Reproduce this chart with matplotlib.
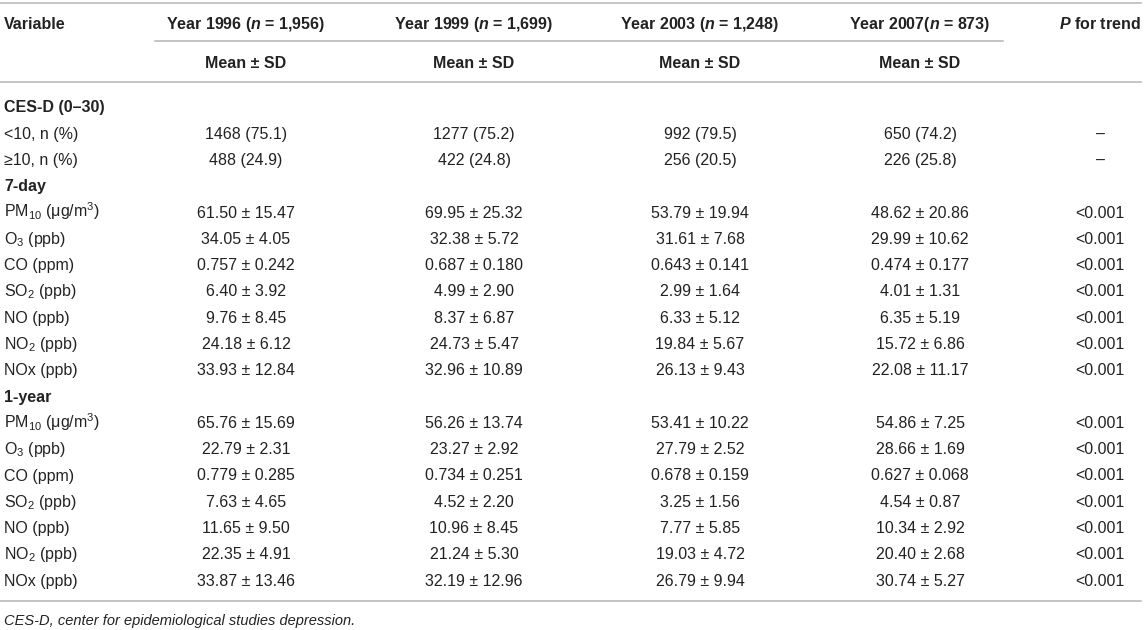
import matplotlib
matplotlib.use("Agg")
import matplotlib.pyplot as plt
from matplotlib.lines import Line2D

plt.rcParams['font.family'] = ['Liberation Sans', 'DejaVu Sans']
plt.rcParams['mathtext.fontset'] = 'custom'
plt.rcParams['mathtext.rm'] = 'Liberation Sans'
plt.rcParams['mathtext.it'] = 'Liberation Sans:italic:bold'
plt.rcParams['mathtext.bf'] = 'Liberation Sans:bold'

# ---- table data ----
years = ['1996', '1999', '2003', '2007']
sample_n = ['1,956', '1,699', '1,248', '873']

ces_labels = ['<10, n (%)', '≥10, n (%)']
ces_counts = [[1468, 488], [1277, 422], [992, 256], [650, 226]]
ces_pct = [[75.1, 24.9], [75.2, 24.8], [79.5, 20.5], [74.2, 25.8]]

pollutants = ['PM$_{10}$ (μg/m$^3$)', 'O$_3$ (ppb)', 'CO (ppm)', 'SO$_2$ (ppb)',
              'NO (ppb)', 'NO$_2$ (ppb)', 'NOx (ppb)']
decimals = [2, 2, 3, 2, 2, 2, 2]

mean_7day = [[61.50, 34.05, 0.757, 6.40, 9.76, 24.18, 33.93],
             [69.95, 32.38, 0.687, 4.99, 8.37, 24.73, 32.96],
             [53.79, 31.61, 0.643, 2.99, 6.33, 19.84, 26.13],
             [48.62, 29.99, 0.474, 4.01, 6.35, 15.72, 22.08]]
sd_7day = [[15.47, 4.05, 0.242, 3.92, 8.45, 6.12, 12.84],
           [25.32, 5.72, 0.180, 2.90, 6.87, 5.47, 10.89],
           [19.94, 7.68, 0.141, 1.64, 5.12, 5.67, 9.43],
           [20.86, 10.62, 0.177, 1.31, 5.19, 6.86, 11.17]]

mean_1year = [[65.76, 22.79, 0.779, 7.63, 11.65, 22.35, 33.87],
              [56.26, 23.27, 0.734, 4.52, 10.96, 21.24, 32.19],
              [53.41, 27.79, 0.678, 3.25, 7.77, 19.03, 26.79],
              [54.86, 28.66, 0.627, 4.54, 10.34, 20.40, 30.74]]
sd_1year = [[15.69, 2.31, 0.285, 4.65, 9.50, 4.91, 13.46],
            [13.74, 2.92, 0.251, 2.20, 8.45, 5.30, 12.96],
            [10.22, 2.52, 0.159, 1.56, 5.85, 4.72, 9.94],
            [7.25, 1.69, 0.068, 0.87, 2.92, 2.68, 5.27]]

p_ces = ['–', '–']
p_7day = ['<0.001'] * 7
p_1year = ['<0.001'] * 7

footnote = 'CES-D, center for epidemiological studies depression.'

# ---- layout (pixels) ----
W, H = 1145, 630
fig = plt.figure(figsize=(W / 100, H / 100), dpi=100)
TXT = '#222222'
RULE = '#b4b4b4'
FS = 11.5

col_x = [246, 474, 700, 920]
p_x = 1100
label_x = 4


def put(x, y, s, ha='center', weight='normal', style='normal', size=FS):
    # y is the visual centre of capital letters, in pixels from the top
    fig.text(x / W, 1 - (y + 5.8) / H, s, ha=ha, va='baseline', color=TXT,
             fontsize=size, fontweight=weight, fontstyle=style)


def rule(y, x0=0, x1=1141):
    fig.add_artist(Line2D([x0 / W, x1 / W], [1 - y / H, 1 - y / H],
                          color=RULE, lw=1.1, transform=fig.transFigure))


# header
rule(3)
put(label_x, 23, 'Variable', ha='left', weight='bold')
for i, (yr, n) in enumerate(zip(years, sample_n)):
    gap = '' if yr == '2007' else ' '
    put(col_x[i], 23, f'Year {yr}{gap}($n$ = {n})', weight='bold')
    put(col_x[i], 62, 'Mean ± SD', weight='bold')
put(p_x, 23, '$P$ for trend', weight='bold')
rule(41, 155, 1003)
rule(82)

# body rows
y0, dy = 106.5, 26.3
row = 0


def ypos():
    return y0 + dy * row


put(label_x, ypos(), 'CES-D (0–30)', ha='left', weight='bold')
row += 1
for k, lab in enumerate(ces_labels):
    put(label_x, ypos(), lab, ha='left')
    for i in range(len(years)):
        put(col_x[i], ypos(), f'{ces_counts[i][k]} ({ces_pct[i][k]:.1f})')
    put(p_x, ypos(), p_ces[k])
    row += 1

for title, means, sds, pv in [('7-day', mean_7day, sd_7day, p_7day),
                              ('1-year', mean_1year, sd_1year, p_1year)]:
    put(label_x, ypos(), title, ha='left', weight='bold')
    row += 1
    for k, lab in enumerate(pollutants):
        put(label_x, ypos(), lab, ha='left')
        d = decimals[k]
        for i in range(len(years)):
            put(col_x[i], ypos(), f'{means[i][k]:.{d}f} ± {sds[i][k]:.{d}f}')
        put(p_x, ypos(), pv[k])
        row += 1

rule(601)
put(label_x, 619, footnote, ha='left', style='italic', size=10.5)

fig.savefig('out.png', dpi=100)
